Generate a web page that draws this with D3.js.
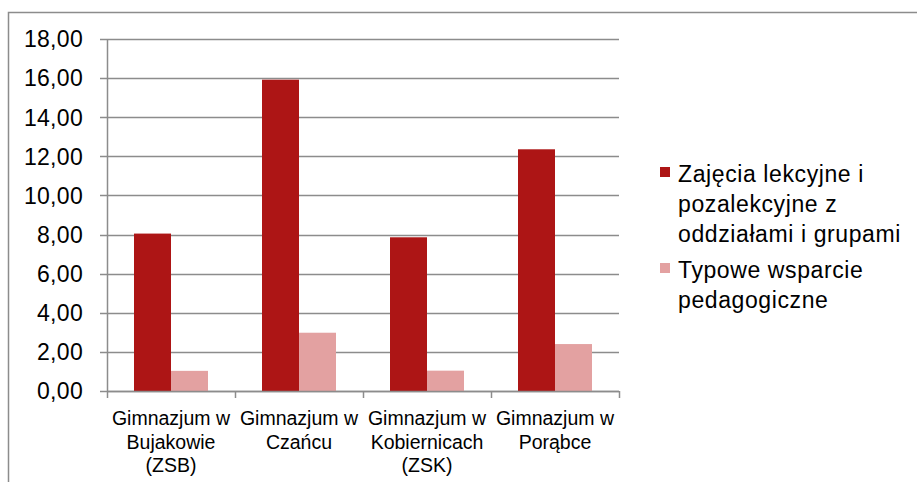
<!DOCTYPE html>
<html><head><meta charset="utf-8">
<script src="https://cdn.jsdelivr.net/npm/d3@7"></script>
<style>body{margin:0;background:#fff}svg{display:block}</style>
</head><body>
<script>
const categories = [
  ["Gimnazjum w", "Bujakowie", "(ZSB)"],
  ["Gimnazjum w", "Czańcu"],
  ["Gimnazjum w", "Kobiernicach", "(ZSK)"],
  ["Gimnazjum w", "Porąbce"]
];
const seriesNames = [
  ["Zajęcia lekcyjne i", "pozalekcyjne z", "oddziałami i grupami"],
  ["Typowe wsparcie", "pedagogiczne"]
];
const seriesA = [8.05, 15.92, 7.86, 12.36];
const seriesB = [1.03, 2.98, 1.04, 2.40];
const yTicks = [0, 2, 4, 6, 8, 10, 12, 14, 16, 18];
const colors = ["#AD1515", "#E3A1A1"];

(function () {
const W = 917, H = 482;
const svg = d3.select("body").append("svg").attr("width", W).attr("height", H);
const font = "'Liberation Sans', Arial, sans-serif";

// outer chart border
svg.append("path").attr("d", "M8.5,482 L8.5,12.5 L917,12.5")
  .attr("fill", "none").attr("stroke", "#8c8c8c").attr("stroke-width", 1.5);

const pL = 107, pR = 619, pT = 39, pB = 391;
const x = d3.scaleBand().domain(d3.range(categories.length)).range([pL, pR]);
const y = d3.scaleLinear().domain([0, 18]).range([pB, pT]);
const inner = d3.scaleBand().domain([0, 1]).range([0, x.bandwidth()]).paddingOuter(0.73).paddingInner(0);

// gridlines
svg.append("g").selectAll("line").data(yTicks).join("line")
  .attr("x1", pL - 7).attr("x2", pR)
  .attr("y1", d => Math.round(y(d)) + 0.5).attr("y2", d => Math.round(y(d)) + 0.5)
  .attr("stroke", "#8c8c8c").attr("stroke-width", 1.5);

// y labels
const fmt = d => d.toFixed(2).replace(".", ",");
svg.append("g").selectAll("text").data(yTicks).join("text")
  .attr("x", 83).attr("y", d => y(d)).attr("dy", "0.36em")
  .attr("text-anchor", "end").attr("font-family", font).attr("font-size", 23)
  .attr("letter-spacing", 0.3)
  .attr("fill", "#000").text(fmt);

// bars
const data = [seriesA, seriesB];
data.forEach((vals, s) => {
  svg.append("g").selectAll("rect").data(vals).join("rect")
    .attr("x", (d, i) => x(i) + inner(s))
    .attr("width", inner.bandwidth())
    .attr("y", d => y(d))
    .attr("height", d => pB - y(d))
    .attr("fill", colors[s]);
});

// axes lines
svg.append("line").attr("x1", pL + 0.5).attr("x2", pL + 0.5).attr("y1", pT).attr("y2", pB)
  .attr("stroke", "#8c8c8c").attr("stroke-width", 1.5);
svg.append("line").attr("x1", pL).attr("x2", pR).attr("y1", pB + 0.5).attr("y2", pB + 0.5)
  .attr("stroke", "#8c8c8c").attr("stroke-width", 1.5);
const catTicks = d3.range(categories.length + 1).map(i => i < categories.length ? x(i) : pR);
svg.append("g").selectAll("line").data(catTicks).join("line")
  .attr("x1", d => Math.round(d) + 0.5).attr("x2", d => Math.round(d) + 0.5)
  .attr("y1", pB).attr("y2", pB + 7)
  .attr("stroke", "#8c8c8c").attr("stroke-width", 1.5);

// category labels
categories.forEach((lines, i) => {
  const t = svg.append("text").attr("text-anchor", "middle")
    .attr("font-family", font).attr("font-size", 19.5).attr("fill", "#000");
  lines.forEach((ln, j) => {
    t.append("tspan").attr("x", x(i) + x.bandwidth() / 2).attr("y", 425 + j * 23.5).text(ln);
  });
});

// legend
const legendTops = [174, 270];
seriesNames.forEach((lines, s) => {
  svg.append("rect").attr("x", 660).attr("y", legendTops[s] - 7).attr("width", 10).attr("height", 10)
    .attr("fill", colors[s]);
  const t = svg.append("text").attr("font-family", font).attr("font-size", 23)
    .attr("letter-spacing", 0.6).attr("fill", "#000");
  lines.forEach((ln, j) => {
    t.append("tspan").attr("x", 678).attr("y", legendTops[s] + 8 + j * 30).text(ln);
  });
});
})();
</script>
</body></html>
